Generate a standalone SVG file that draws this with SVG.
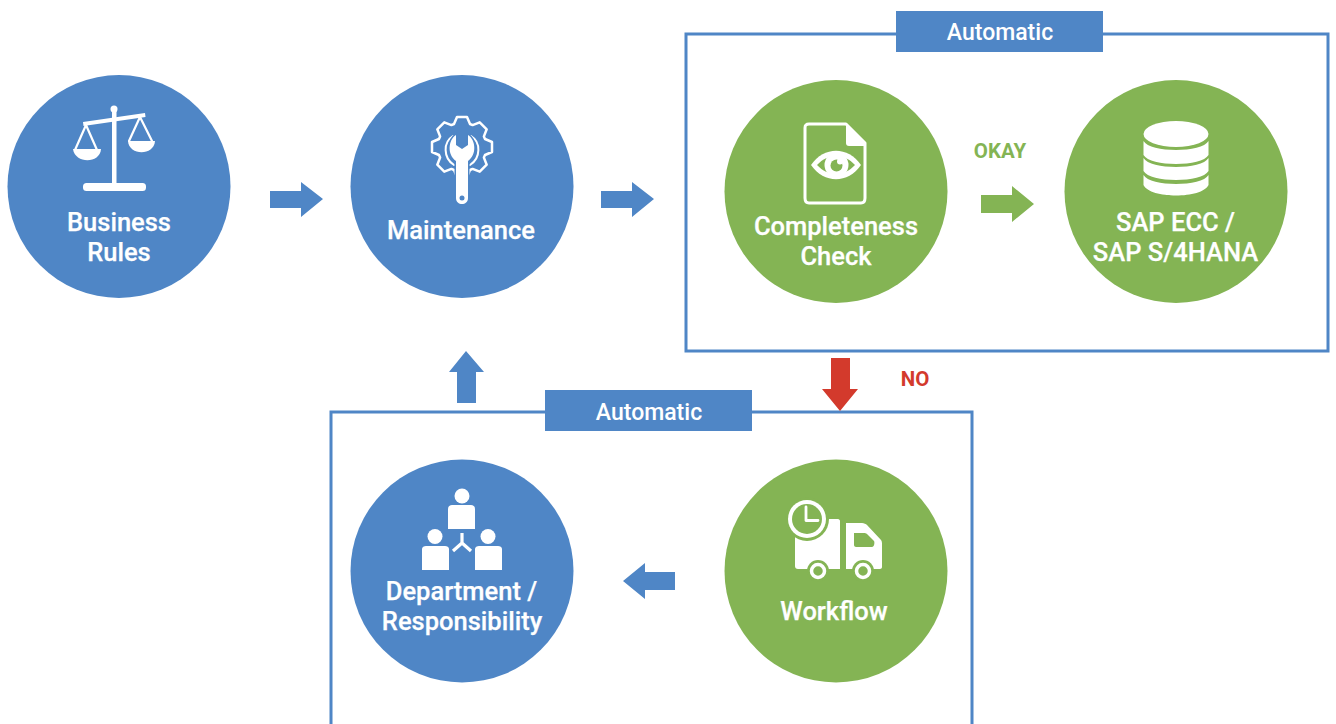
<svg xmlns="http://www.w3.org/2000/svg" width="1336" height="724" viewBox="0 0 1336 724">
<style>
.b{fill:#4f86c6}.g{fill:#84b454}.w{fill:#fff}
.t{font-family:Roboto,"Liberation Sans",sans-serif;font-weight:500;font-size:25.500px;fill:#fff;text-anchor:middle;stroke:#fff;stroke-width:.25}
.f{fill:none;stroke:#4f86c6;stroke-width:3}
.s{fill:none;stroke:#fff;stroke-width:3;stroke-linejoin:round;stroke-linecap:round}
.tag{font-family:Roboto,"Liberation Sans",sans-serif;font-weight:500;font-size:23px;fill:#fff;text-anchor:middle}
.lab{font-family:Roboto,"Liberation Sans",sans-serif;font-weight:700;font-size:20.500px;text-anchor:middle}
</style>
<rect width="1336" height="724" fill="#fff"/>
<g id="frames">
<rect class="f" x="686" y="34" width="642" height="317"/>
<path class="f" d="M331 724V412H972V724"/>
<rect class="b" x="896" y="11" width="207" height="41"/>
<text class="tag" x="1000" y="40">Automatic</text>
<rect class="b" x="545" y="390" width="207" height="41"/>
<text class="tag" x="649" y="420">Automatic</text>
</g>
<g id="connectors">
<path class="b" d="M270 191H301V182L323 199L301 217V208H270Z"/>
<path class="b" d="M601 191H632V182L654 199L632 217V208H601Z"/>
<path class="g" d="M981 195H1012V186L1034 204L1012 222V213H981Z"/>
<path class="b" d="M457 403V372H449L466 351L484 372H476V403Z"/>
<path fill="#d33a2c" d="M831 358H850V389H858L840 411L822 389H831Z"/>
<path class="b" d="M675 572V590H645V599L623 581L645 563V572Z"/>
<text class="lab" x="1000" y="158" style="fill:#84b454">OKAY</text>
<text class="lab" x="915" y="386" style="fill:#d33a2c">NO</text>
</g>
<g id="business-rules">
<circle class="b" cx="119" cy="186.500" r="111.500"/>
<circle class="w" cx="114" cy="109" r="3.500"/>
<rect class="w" x="112" y="110" width="4.500" height="76"/>
<path class="w" d="M83 122L145 113L145.500 117L83.500 126Z"/>
<rect class="w" x="83" y="183" width="63" height="8" rx="3.500"/>
<path class="s" d="M86 125L75 150M86 125L97 150M140 117L129 141M140 117L152 141" style="stroke-width:2.200"/>
<path class="w" d="M73 149H101C100 164 75 164 73 149Z"/>
<path class="w" d="M128 141H155C154 156 129 156 128 141Z"/>
<text class="t" x="119" y="230.500">Business</text>
<text class="t" x="119" y="260.500">Rules</text>
</g>
<g id="maintenance">
<circle class="b" cx="462" cy="186.500" r="111.500"/>
<path class="s" transform="translate(462 147)" style="stroke-width:2.500" d="M-8 -23L-5 -30L5 -30L8 -23L10.600 -21.900L17.700 -24.700L24.700 -17.700L21.900 -10.600L23 -8L30 -5L30 5L23 8L21.900 10.600L24.700 17.700L17.700 24.700L10.600 21.900L8 23L5 30L-5 30L-8 23L-10.600 21.900L-17.700 24.700L-24.700 17.700L-21.900 10.600L-23 8L-30 5L-30 -5L-23 -8L-21.900 -10.600L-24.700 -17.700L-17.700 -24.700L-10.600 -21.900Z"/>
<path class="s" d="M453 136C443 142 443 158 454 165M471 136C481 142 481 158 470 165" style="stroke-width:2"/>
<path class="w" style="stroke:#4f86c6;stroke-width:3;paint-order:stroke" d="M456 135V145L462 149L468 145V135C476 140 477 155 468 161V198C468 206 456 206 456 198V161C447 155 448 140 456 135Z"/>
<circle class="b" cx="462" cy="198" r="2.500"/>
<text class="t" x="461" y="238.500">Maintenance</text>
</g>
<g id="completeness-check">
<circle class="g" cx="836" cy="191.500" r="111.500"/>
<path class="s" d="M809 124H846L865 143V198C865 201 864 203 861 203H809C806 203 805 201 805 198V128C805 125 806 124 809 124Z"/>
<path class="w" d="M846 124L865 143V146H849C847 146 846 145 846 143Z"/>
<path class="w" d="M811 165C824 146 848 146 861 165C848 184 824 184 811 165Z"/>
<path class="g" d="M817 165C828 153 844 153 855 165C844 177 828 177 817 165Z"/>
<circle class="w" cx="836.500" cy="165" r="12"/>
<circle class="g" cx="836.500" cy="165.500" r="6"/>
<circle class="w" cx="840" cy="161.500" r="3"/>
<text class="t" x="836" y="234.500">Completeness</text>
<text class="t" x="836" y="264.500">Check</text>
</g>
<g id="sap">
<circle class="g" cx="1176" cy="191.500" r="111.500"/>
<ellipse class="w" cx="1176" cy="134" rx="32.500" ry="13"/>
<path class="w" d="M1143.500 141C1150 153 1202 153 1208.500 141V155C1202 167 1150 167 1143.500 155Z"/>
<path class="w" d="M1143.500 158C1150 170 1202 170 1208.500 158V171C1202 183 1150 183 1143.500 171Z"/>
<path class="w" d="M1143.500 175C1150 187 1202 187 1208.500 175V185C1202 199 1150 199 1143.500 185Z"/>
<text class="t" x="1175.500" y="230.500">SAP ECC /</text>
<text class="t" x="1175.500" y="260.500">SAP S/4HANA</text>
</g>
<g id="department">
<circle class="b" cx="462" cy="571" r="111.500"/>
<circle class="w" cx="462" cy="496" r="7.500"/>
<path class="w" d="M448 509C448 506 450 505 452 505H471C473 505 475 506 475 509V529H448Z"/>
<circle class="w" cx="435" cy="536.500" r="7.500"/>
<path class="w" d="M422 549C422 547 424 546 426 546H445C447 546 449 547 449 549V570H422Z"/>
<circle class="w" cx="488" cy="536.500" r="7.500"/>
<path class="w" d="M475 549C475 547 477 546 479 546H498C500 546 502 547 502 549V570H475Z"/>
<path class="s" d="M462 533V543M462 543L453 551M462 543L471 551" style="stroke-width:3.200;stroke-linecap:butt"/>
<text class="t" x="461.500" y="600">Department /</text>
<text class="t" x="462" y="630">Responsibility</text>
</g>
<g id="workflow">
<circle class="g" cx="836" cy="571" r="111.500"/>
<path class="w" d="M795 534V566C795 568 796 569 798 569H840V521C840 520 839 519 838 519H820L795 534Z"/>
<path class="w" d="M846 523H862C864 523 866 524 867 525L881 540C882 541 882 543 882 545V567C882 568 881 569 880 569H846Z"/>
<path class="g" d="M854 533H864C865 533 866 533 867 534L874 541C875 543 874 547 872 547H856C855 547 854 546 854 545Z"/>
<circle class="g" cx="807" cy="519" r="22"/>
<circle class="w" cx="807" cy="519" r="19"/>
<circle class="g" cx="807" cy="519" r="15"/>
<path class="s" d="M806 507V520.500H818" style="stroke-width:2.800"/>
<circle class="g" cx="818" cy="571" r="11"/>
<circle class="g" cx="863" cy="571" r="11"/>
<circle class="s" cx="818" cy="571" r="6.500" style="stroke-width:3.500"/>
<circle class="s" cx="863" cy="571" r="6.500" style="stroke-width:3.500"/>
<text class="t" x="834" y="620">Workflow</text>
</g>
</svg>
